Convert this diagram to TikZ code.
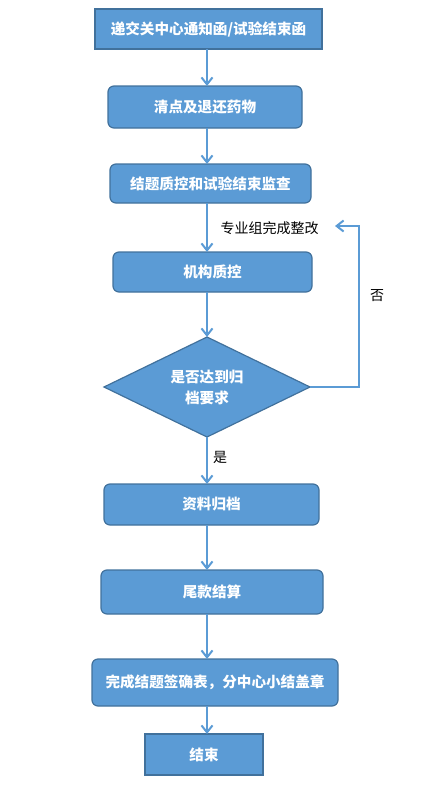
\documentclass[tikz,border=0pt]{standalone}
\usepackage{fontspec}
\newfontfamily\cjk{Noto Sans CJK SC}
\usetikzlibrary{shapes.geometric,arrows.meta}
\definecolor{boxfill}{HTML}{5B9BD5}
\definecolor{boxline}{HTML}{41719C}
\definecolor{lineblue}{HTML}{5B9BD5}
\begin{document}
\begin{tikzpicture}[x=1pt,y=-1pt,
  base/.style={draw=boxline,fill=boxfill,line width=1.2pt,text=white,inner sep=0pt,outer sep=0pt,
    font=\cjk\bfseries\fontsize{14.6}{18}\selectfont,align=center},
  sbox/.style={base},
  rbox/.style={base,rounded corners=6pt},
  decide/.style={base,diamond,shape aspect=2.06},
  conn/.style={draw=lineblue,line width=2pt,-{Straight Barb[length=7pt,width=11pt,line width=2pt]}},
  lbl/.style={font=\cjk\fontsize{14}{17}\selectfont,inner sep=0pt}]
\useasboundingbox (0,0) rectangle (425,788);
\coordinate (spine) at (207,0);
\node[sbox,minimum width=227,minimum height=40] (b1) at (208.5,29) {递交关中心通知函/试验结束函};
\node[rbox,minimum width=194,minimum height=42] (b2) at (205,107) {清点及退还药物};
\node[rbox,minimum width=201,minimum height=39] (b3) at (210.5,183.5) {结题质控和试验结束监查};
\node[rbox,minimum width=199,minimum height=40] (b4) at (212.5,272) {机构质控};
\node[decide,minimum width=206,minimum height=100,text width=80,font=\cjk\bfseries\fontsize{14.6}{21}\selectfont] (dia) at (207,387) {是否达到归\\档要求};
\node[rbox,minimum width=215,minimum height=41] (b5) at (211.5,504.5) {资料归档};
\node[rbox,minimum width=222,minimum height=44] (b6) at (212,592) {尾款结算};
\node[rbox,minimum width=246,minimum height=47] (b7) at (215,682.5) {完成结题签确表，分中心小结盖章};
\node[sbox,minimum width=118,minimum height=41] (b8) at (204,754.5) {结束};
\node[lbl] (l1) at (269.5,228) {专业组完成整改};
\node[lbl] (lno) at (377,296) {否};
\node[lbl] (lyes) at (220,457) {是};
\coordinate (loopc) at (359,226);
\coordinate (tip) at (335,226);
\draw[conn] (b1.south -| spine) -- (b2.north -| spine);
\draw[conn] (b2.south -| spine) -- (b3.north -| spine);
\draw[conn] (b3.south -| spine) -- (b4.north -| spine);
\draw[conn] (b4.south -| spine) -- (dia.north);
\draw[conn] (dia.south) -- (b5.north -| spine);
\draw[conn] (b5.south -| spine) -- (b6.north -| spine);
\draw[conn] (b6.south -| spine) -- (b7.north -| spine);
\draw[conn] (b7.south -| spine) -- (b8.north -| spine);
\draw[conn] (dia.east) -| (loopc) -- (tip);
\end{tikzpicture}
\end{document}
